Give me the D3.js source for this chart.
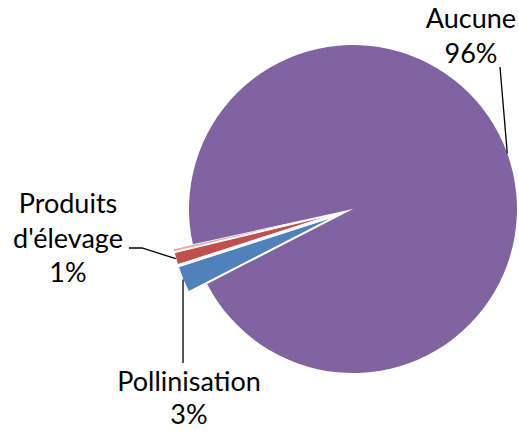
<!DOCTYPE html>
<html>
<head>
<meta charset="utf-8">
<script src="https://cdn.jsdelivr.net/npm/d3@7"></script>
<style>
  html, body { margin: 0; padding: 0; background: #fff; }
  text { font-family: Lato, "Open Sans", sans-serif; fill: #000; }
</style>
</head>
<body>
<div id="chart"></div>
<script>
// data
const categories = ["Pollinisation", "Produits d'élevage", "Autre", "Aucune"]
const values = [2.6, 1.2, 0.3, 95.9]
const pctLabels = ["3%", "1%", null, "96%"]
const colors = ["#4f81bd", "#c0504d", "#e6a7a5", "#8064a2"]

const W = 519, H = 431
const cx = 353, cy = 209, R = 164
const explode = 20

const svg = d3.select("#chart").append("svg")
  .attr("width", W).attr("height", H)

const pie = d3.pie()
  .sort(null)
  .startAngle(242.8 * Math.PI / 180)
  .endAngle((242.8 + 360) * Math.PI / 180)
  .value(d => d)

const arcs = pie(values)
const arc = d3.arc().innerRadius(0).outerRadius(R)

const mid = d => (d.startAngle + d.endAngle) / 2
const off = (d, i) => i === 3 ? 0 : explode
// point at distance r from the (exploded) slice apex, along its bisector
function edgePt(d, i, r) {
  const a = mid(d), o = off(d, i)
  return [cx + (o + r) * Math.sin(a), cy - (o + r) * Math.cos(a)]
}

const g = svg.append("g")
g.selectAll("path")
  .data(arcs)
  .enter().append("path")
    .attr("d", arc)
    .attr("transform", (d, i) => {
      const a = mid(d), o = off(d, i)
      return `translate(${cx + o * Math.sin(a)},${cy - o * Math.cos(a)})`
    })
    .style("fill", (d, i) => colors[i])
    .style("stroke", (d, i) => i === 3 ? "none" : "#fff")
    .style("stroke-width", 1)

// leader lines
const pPol = edgePt(arcs[0], 0, R)
const pProd = edgePt(arcs[1], 1, R)
const pAuc = edgePt(arcs[3], 3, R)
const line = d3.line()
const leaders = [
  [pPol, [pPol[0], 363]],
  [pProd, [142, 248], [129, 248]],
  [pAuc, [500, 67]]
]
svg.selectAll("path.leader")
  .data(leaders)
  .enter().append("path")
    .attr("class", "leader")
    .attr("d", line)
    .style("fill", "none")
    .style("stroke", "#000")
    .style("stroke-width", 1.3)

// labels
const labelPos = [
  { x: 189, lines: [391, 424] },
  { x: 68, lines: [213, 248, 282] },
  null,
  { x: 471, lines: [28, 63] }
]
const labelText = [
  [categories[0], pctLabels[0]],
  ["Produits", "d'élevage", pctLabels[1]],
  null,
  [categories[3], pctLabels[3]]
]
labelPos.forEach((p, i) => {
  if (!p) return
  const t = svg.append("text")
    .attr("text-anchor", "middle")
    .style("font-size", "27px")
  labelText[i].forEach((s, k) => {
    t.append("tspan").attr("x", p.x).attr("y", p.lines[k]).text(s)
  })
})
</script>
</body>
</html>
